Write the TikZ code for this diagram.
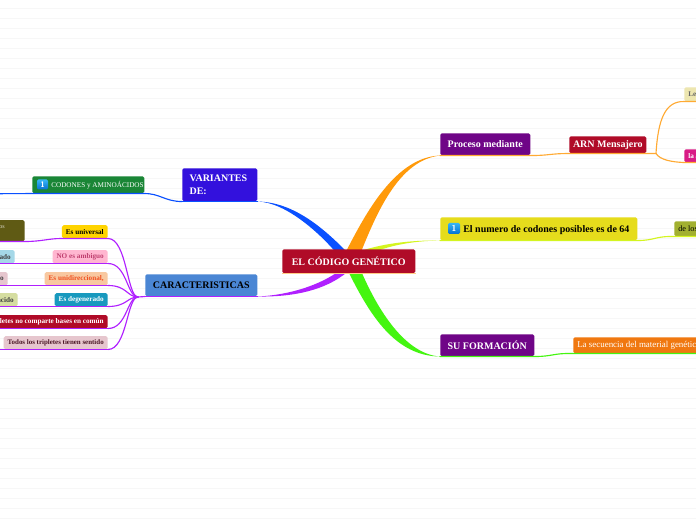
\documentclass[tikz,border=0pt]{standalone}
\usepackage{fontspec}
\setmainfont{Liberation Serif}
\usetikzlibrary{backgrounds}
\definecolor{cRed}{HTML}{B00B28}
\definecolor{cPurple}{HTML}{6F0587}
\definecolor{cVar}{HTML}{3311DD}
\definecolor{cCod}{HTML}{1A8636}
\definecolor{cCar}{HTML}{4A86D4}
\definecolor{cBlueB}{HTML}{0A50FF}
\definecolor{cOrangeB}{HTML}{FF9A0A}
\definecolor{cOrangeL}{HTML}{FFAA33}
\definecolor{cYellowB}{HTML}{D4F520}
\definecolor{cGreenB}{HTML}{44F510}
\definecolor{cPurpleB}{HTML}{B020FF}
\definecolor{cIconT}{HTML}{35B5F5}
\definecolor{cIconB}{HTML}{0870D0}
\definecolor{cUni}{HTML}{FFD400}
\definecolor{cDark}{HTML}{5F5A14}
\definecolor{cAmb}{HTML}{FFB6D0}
\definecolor{cAmbT}{HTML}{C04070}
\definecolor{cCado}{HTML}{A5D8E8}
\definecolor{cDir}{HTML}{F8C8A0}
\definecolor{cDirT}{HTML}{F05020}
\definecolor{cRose}{HTML}{E6C6CE}
\definecolor{cDeg}{HTML}{1899BE}
\definecolor{cCido}{HTML}{D5DDA0}
\definecolor{cTodT}{HTML}{4A1626}
\definecolor{cNum}{HTML}{E6DC1C}
\definecolor{cLos}{HTML}{A2B030}
\definecolor{cSec}{HTML}{F07810}
\definecolor{cLaa}{HTML}{D81B85}
\definecolor{cLe}{HTML}{EDE6B0}
\tikzset{
  x=0.75pt,y=-0.75pt,
  mbox/.style={rectangle,rounded corners=1.2pt,inner sep=0pt,font=\bfseries,align=left},
  main/.style={mbox,font=\fontsize{7.5}{9}\selectfont\bfseries,text=white,anchor=north west,align=center},
  small/.style={mbox,font=\fontsize{5.4}{6.5}\selectfont\bfseries,minimum height=9.75pt,inner xsep=3pt},
  thin/.style={line width=0.85pt,line cap=round},
  iconbox/.style={rectangle,rounded corners=1pt,top color=cIconT,bottom color=cIconB,text=white,inner sep=0pt,font=\fontsize{6}{6}\selectfont\bfseries\sffamily},
  gridline/.style={draw=black!3,line width=0.75pt}
}
\begin{document}
\begin{tikzpicture}
\useasboundingbox (0,0) rectangle (696,520);
\clip (0,0) rectangle (696,520);
\begin{scope}[on background layer]
\fill[white] (0,0) rectangle (696,520);
\foreach \k in {0,...,51}{\draw[gridline] (0,8.5+10*\k) -- (696,8.5+10*\k);}
\end{scope}

% nodes
\node[main,fill=cRed,minimum width=99.75pt,minimum height=18pt] (central) at (282,249) {EL CÓDIGO GENÉTICO};
\node[main,fill=cVar,minimum width=56.25pt,minimum height=24.75pt,align=left,inner xsep=5.5pt,text width=45.25pt,font=\fontsize{7.5}{10}\selectfont\bfseries] (var) at (182,168) {VARIANTES DE:};
\node[mbox,fill=cCod,minimum width=84pt,minimum height=12.75pt,anchor=north west] (cod) at (32,176) {};
\node[iconbox,minimum width=8.25pt,minimum height=7.5pt] (codicon) at (42.5,184.5) {1};
\node[font=\fontsize{5.4}{7}\selectfont,text=white,inner sep=0pt,anchor=west] (codtxt) at (51,185) {CODONES y AMINOÁCIDOS};
\node[main,fill=cCar,minimum width=84pt,minimum height=16.5pt,text=black] (car) at (145,274) {CARACTERISTICAS};

\node[small,fill=cUni,anchor=south east,text=black] (uni) at (108,238.5) {Es universal};
\node[small,fill=cDark,anchor=south east,minimum height=15.75pt,text=white!80!cDark,inner xsep=15pt,font=\fontsize{4.5}{5}\selectfont] (dark) at (25,241.5) {\raisebox{5pt}{os}};
\node[small,fill=cAmb,anchor=south east,text=cAmbT] (amb) at (108,263.5) {NO es ambiguo};
\node[small,fill=cCado,anchor=south east,text=black!75] (cado) at (15,263.5) {cado};
\node[small,fill=cDir,anchor=south east,text=cDirT] (dir) at (108,285.5) {Es unidireccional,};
\node[small,fill=cRose,anchor=south east,text=black!75] (oo) at (8,285.5) {o};
\node[small,fill=cDeg,anchor=south east,text=white] (deg) at (108,306.5) {Es degenerado};
\node[small,fill=cCido,anchor=south east,text=black!75] (cido) at (18,306.5) {ácido};
\node[small,fill=cRed,anchor=south east,text=white] (tri) at (108,328.5) {tripletes no comparte bases en común};
\node[small,fill=cRose,anchor=south east,text=cTodT,font=\fontsize{5.2}{6.5}\selectfont\bfseries] (tod) at (108,349.5) {Todos los tripletes tienen sentido};

\node[main,fill=cPurple,minimum width=67.5pt,minimum height=16.5pt] (pro) at (440,133) {Proceso mediante};
\node[main,fill=cRed,minimum width=57.75pt,minimum height=12.75pt] (arn) at (569,136) {ARN Mensajero};
\node[small,fill=cLe,anchor=north west,minimum height=10.5pt,text=black!60] (le) at (684,87) {Le};
\node[small,fill=cLaa,anchor=north west,text=white] (laa) at (684,149) {la a};
\node[mbox,fill=cNum,minimum width=147.75pt,minimum height=17.25pt,anchor=north west] (num) at (440,217) {};
\node[iconbox,minimum width=9pt,minimum height=8.25pt,font=\fontsize{6.5}{6.5}\selectfont\bfseries\sffamily] (numicon) at (454,228.5) {1};
\node[font=\fontsize{7.5}{9}\selectfont\bfseries,text=black,inner sep=0pt,anchor=west] (numtxt) at (463,230) {El numero de codones posibles es de 64};
\node[small,fill=cLos,anchor=north west,minimum height=11.25pt,font=\fontsize{6.2}{7}\selectfont,text=black] (los) at (674,221) {de los};
\node[main,fill=cPurple,minimum width=70.5pt,minimum height=16.5pt] (sf) at (440,334) {SU FORMACIÓN};
\node[small,fill=cSec,anchor=north west,minimum height=12pt,text=white,font=\fontsize{6.7}{7}\selectfont,inner xsep=3pt] (sec) at (573,337) {La secuencia del material genético};

% tapered main branches, behind the nodes
\begin{scope}[on background layer]
\fill[cBlueB] ([shift={(-15,1)}]central.north) .. controls (318,232) and (285,202) .. (var.south east) .. controls (292,202) and (322,226) .. ([shift={(0,5)}]central.north) -- cycle;
\fill[cOrangeB] ([shift={(-2,1)}]central.north) .. controls (365,215) and (395,157) .. (pro.south west) .. controls (400,160) and (378,210) .. ([shift={(13,1)}]central.north) -- cycle;
\fill[cYellowB] ([shift={(9,3)}]central.north) .. controls (380,244) and (410,240) .. (num.south west) .. controls (410,241) and (385,246) .. ([shift={(11,9)}]central.north) -- cycle;
\fill[cGreenB] ([shift={(0,-1)}]central.south) .. controls (370,315) and (395,356) .. (sf.south west) .. controls (405,354) and (378,310) .. ([shift={(13,-1)}]central.south) -- cycle;
\fill[cPurpleB] (car.south east) .. controls (290,295) and (320,285) .. ([shift={(-9,-3)}]central.south) -- ([shift={(-2,-1)}]central.south) .. controls (325,290) and (295,297) .. (car.south east) -- cycle;
\end{scope}
\draw[cOrangeL!60,line width=0.6pt] (central.south west) -- (central.south east);

% thin connectors
\draw[cBlueB,thin] (var.south west) .. controls (165,201.5) and (160,193.5) .. (cod.south east) -- (cod.south west) -- (0,193.7);
\draw[cBlueB,thin] (var.south west) -- (var.south east);
\draw[cPurpleB,thin] (car.south west) -- (car.south east);
\coordinate (fan) at (138,297);
\draw[cPurpleB,thin] (car.south west) -- (fan);
\foreach \n/\yy in {uni/238.5,amb/263.5,dir/285.5,deg/306.5,tri/328.5,tod/349.5}{
  \draw[cPurpleB,thin] (fan) .. controls (127,297) and (127,\yy) .. (\n.south east);
}
\draw[cPurpleB,thin] (uni.south east) -- (uni.south west) .. controls (48,238.5) and (42,241.5) .. (dark.south east) -- (dark.south west);
\draw[cPurpleB,thin] (amb.south east) -- (amb.south west) -- (cado.south east) -- (cado.south west);
\draw[cPurpleB,thin] (dir.south east) -- (dir.south west) -- (oo.south east) -- (oo.south west);
\draw[cPurpleB,thin] (deg.south east) -- (deg.south west) -- (cido.south east) -- (cido.south west);
\draw[cPurpleB,thin] (tri.south east) -- (tri.south west);
\draw[cPurpleB,thin] (tod.south east) -- (tod.south west) -- (0,349.5);

\draw[cOrangeL,thin] (pro.south west) -- (pro.south east) .. controls (550,155.5) and (550,153.5) .. (arn.south west) -- (arn.south east) -- (656,153.5) coordinate (fork);
\draw[cOrangeL,thin] (fork) .. controls (658,120) and (665,101) .. (le.south west) -- (le.south east);
\draw[cOrangeL,thin] (fork) .. controls (660,160) and (672,162) .. (laa.south west) -- (laa.south east);
\draw[cYellowB,thin] (num.south west) -- (num.south east) .. controls (655,240.5) and (655,236) .. (los.south west) -- (los.south east);
\draw[cGreenB,thin] (sf.south west) -- (sf.south east) .. controls (553,356.5) and (553,353) .. (sec.south west) -- (sec.south east);
\end{tikzpicture}
\end{document}
